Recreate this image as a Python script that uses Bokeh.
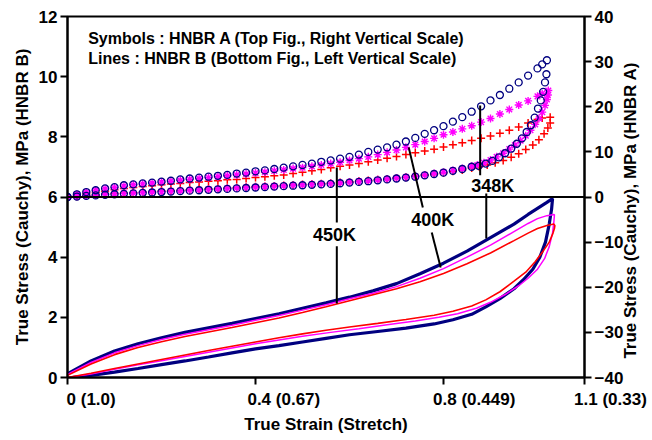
import math
from bokeh.plotting import figure
from bokeh.models import Range1d, LinearAxis, Span, Label, FixedTicker
from bokeh.embed import file_html
from bokeh.resources import INLINE

# ---------------- data ----------------
# shared strain grid for loading branches of HNBR A symbols
strain_up = [0.0, 0.02, 0.04, 0.06, 0.08, 0.1, 0.12, 0.14, 0.16, 0.18, 0.2, 0.22, 0.24, 0.26,
             0.28, 0.3, 0.32, 0.34, 0.36, 0.38, 0.4, 0.42, 0.44, 0.46, 0.48, 0.5, 0.52, 0.54,
             0.56, 0.58, 0.6, 0.62, 0.64, 0.66, 0.68, 0.7, 0.72, 0.74, 0.76, 0.78, 0.8, 0.82,
             0.84, 0.86, 0.88, 0.9, 0.92, 0.94, 0.96, 0.98, 1.0]
# shared strain grid for the low-strain part of unloading branches
strain_lo = [0.84, 0.82, 0.8, 0.78, 0.76, 0.74, 0.72, 0.7, 0.68, 0.66, 0.64, 0.62, 0.6, 0.58,
             0.56, 0.54, 0.52, 0.5, 0.48, 0.46, 0.44, 0.42, 0.4, 0.38, 0.36, 0.34, 0.32, 0.3,
             0.28, 0.26, 0.24, 0.22, 0.2, 0.18, 0.16, 0.14, 0.12, 0.1, 0.08, 0.06, 0.04, 0.02, 0.0]

# HNBR A, 348K (circles), right scale
a348_up = [0.0, 0.6, 1.1, 1.5, 1.9, 2.2, 2.6, 2.8, 3.0, 3.2, 3.4, 3.6, 3.9, 4.1, 4.3, 4.5, 4.7,
           4.9, 5.2, 5.4, 5.7, 5.9, 6.2, 6.5, 6.8, 7.1, 7.4, 7.8, 8.1, 8.5, 8.9, 9.4, 10.0, 10.5,
           11.0, 11.6, 12.3, 13.1, 14.0, 14.8, 15.7, 16.7, 17.7, 18.9, 20.1, 21.4, 22.6, 24.0,
           25.4, 26.9, 28.5]
a348_top_x = [1.01, 1.02, 1.019, 1.016, 1.012, 1.007, 1.001, 0.994, 0.986, 0.977, 0.967, 0.956,
              0.944, 0.931, 0.918, 0.904, 0.89, 0.875, 0.86]
a348_top_y = [29.4, 30.3, 27.2, 25.4, 23.3, 21.4, 19.6, 17.6, 15.9, 14.4, 13.0, 11.8, 10.7, 9.7,
              8.8, 8.0, 7.4, 6.9, 6.7]
a348_lo = [6.2, 5.8, 5.4, 5.1, 4.8, 4.5, 4.3, 4.1, 3.9, 3.7, 3.5, 3.35, 3.2, 3.05, 2.9, 2.8, 2.7,
           2.6, 2.5, 2.4, 2.3, 2.2, 2.1, 2.0, 1.9, 1.8, 1.7, 1.6, 1.5, 1.4, 1.3, 1.2, 1.1, 1.0,
           0.9, 0.8, 0.7, 0.6, 0.5, 0.35, 0.25, 0.1, 0.0]

# HNBR A, 400K (asterisks), right scale
a400_up = [0.0, 0.6, 1.1, 1.5, 1.8, 2.1, 2.4, 2.7, 2.9, 3.1, 3.3, 3.5, 3.7, 3.9, 4.1, 4.3, 4.5,
           4.7, 4.9, 5.1, 5.3, 5.5, 5.8, 6.0, 6.3, 6.5, 6.8, 7.1, 7.4, 7.7, 8.1, 8.5, 8.9, 9.4,
           9.9, 10.4, 11.0, 11.6, 12.3, 13.0, 13.8, 14.4, 15.1, 15.8, 16.6, 17.4, 18.4, 19.4,
           20.4, 21.3, 22.3]
a400_top_x = [1.01, 1.023, 1.022, 1.02, 1.016, 1.01, 1.003, 0.995, 0.985, 0.975, 0.964, 0.952,
              0.94, 0.927, 0.913, 0.9, 0.886, 0.872, 0.86]
a400_top_y = [22.9, 23.6, 22.6, 21.6, 20.3, 18.8, 17.4, 16.1, 14.8, 13.6, 12.5, 11.5, 10.6, 9.7,
              8.9, 8.2, 7.6, 7.1, 6.8]
a400_lo = [6.3, 5.9, 5.5, 5.2, 4.9, 4.6, 4.4, 4.2, 4.0, 3.8, 3.6, 3.45, 3.3, 3.15, 3.0, 2.9, 2.8,
           2.7, 2.6, 2.5, 2.4, 2.3, 2.2, 2.1, 2.0, 1.9, 1.8, 1.7, 1.6, 1.5, 1.4, 1.3, 1.2, 1.1,
           1.0, 0.9, 0.8, 0.7, 0.6, 0.45, 0.3, 0.15, 0.0]

# HNBR A, 450K (crosses), right scale
a450_up = [0.0, 0.3, 0.7, 1.0, 1.3, 1.6, 1.9, 2.1, 2.3, 2.5, 2.7, 2.9, 3.0, 3.2, 3.3, 3.5, 3.6,
           3.8, 3.9, 4.1, 4.3, 4.5, 4.7, 4.9, 5.2, 5.5, 5.8, 6.1, 6.5, 6.8, 7.1, 7.4, 7.8, 8.2,
           8.6, 9.0, 9.4, 9.8, 10.2, 10.6, 11.1, 11.6, 12.0, 12.5, 13.0, 13.5, 14.1, 14.8, 15.5,
           16.4, 17.2]
a450_top_x = [1.01, 1.027, 1.027, 1.022, 1.014, 1.003, 0.99, 0.975, 0.96, 0.944, 0.927, 0.91,
              0.893, 0.876, 0.86]
a450_top_y = [17.5, 17.7, 16.4, 15.3, 14.0, 12.7, 11.5, 10.5, 9.6, 8.8, 8.1, 7.6, 7.1, 6.7, 6.4]
a450_lo = [6.0, 5.7, 5.4, 5.1, 4.85, 4.6, 4.4, 4.2, 4.0, 3.8, 3.65, 3.5, 3.35, 3.2, 3.05, 2.95,
           2.85, 2.75, 2.65, 2.55, 2.45, 2.35, 2.25, 2.15, 2.05, 1.95, 1.85, 1.75, 1.65, 1.55,
           1.45, 1.35, 1.25, 1.15, 1.05, 0.95, 0.85, 0.75, 0.6, 0.45, 0.3, 0.15, 0.0]

# HNBR B lines, left scale (loading then unloading)
b_up_x = [0.0, 0.05, 0.1, 0.15, 0.2, 0.25, 0.3, 0.35, 0.4, 0.45, 0.5, 0.55, 0.6, 0.65, 0.7,
          0.75, 0.8, 0.85, 0.9, 0.95, 0.98, 1.0, 1.02]
b348_up_tip_x = 1.032
b348_up = [0.12, 0.55, 0.88, 1.12, 1.32, 1.5, 1.65, 1.8, 1.96, 2.12, 2.3, 2.48, 2.67, 2.88, 3.12,
           3.45, 3.8, 4.2, 4.65, 5.1, 5.42, 5.62, 5.82, 5.95]
b348_dn_x = [1.03, 1.025, 1.017, 1.005, 0.99, 0.97, 0.95, 0.92, 0.89, 0.86, 0.82, 0.78, 0.72,
             0.66, 0.6, 0.55, 0.5, 0.45, 0.4, 0.35, 0.3, 0.25, 0.2, 0.15, 0.1, 0.05, 0.01]
b348_dn = [5.6, 5.1, 4.5, 4.0, 3.6, 3.25, 2.95, 2.62, 2.35, 2.1, 1.92, 1.78, 1.64, 1.53, 1.42,
           1.3, 1.18, 1.06, 0.95, 0.82, 0.68, 0.55, 0.43, 0.3, 0.18, 0.07, 0.0]

b400_up_tip_x = 1.035
b400_up = [0.1, 0.5, 0.82, 1.06, 1.26, 1.44, 1.59, 1.74, 1.9, 2.06, 2.24, 2.42, 2.62, 2.8, 3.02,
           3.3, 3.62, 4.0, 4.4, 4.85, 5.12, 5.28, 5.38, 5.42]
b400_dn_x = [1.036, 1.035, 1.032, 1.025, 1.015, 1.0, 0.98, 0.96, 0.93, 0.9, 0.87, 0.83, 0.79,
             0.74, 0.68, 0.62, 0.56, 0.5, 0.45, 0.4, 0.35, 0.3, 0.25, 0.2, 0.15, 0.1, 0.05, 0.0]
b400_dn = [5.4, 5.2, 4.8, 4.35, 3.95, 3.6, 3.3, 3.05, 2.75, 2.5, 2.3, 2.12, 2.0, 1.88, 1.75,
           1.62, 1.5, 1.37, 1.25, 1.12, 0.98, 0.84, 0.7, 0.56, 0.42, 0.27, 0.12, 0.0]

b450_up_tip_x = 1.035
b450_up = [0.07, 0.45, 0.76, 1.0, 1.19, 1.36, 1.51, 1.66, 1.82, 1.98, 2.16, 2.35, 2.55, 2.75,
           2.95, 3.18, 3.46, 3.78, 4.14, 4.55, 4.8, 4.95, 5.05, 5.1]
b450_dn_x = [1.037, 1.036, 1.033, 1.025, 1.012, 0.995, 0.975, 0.95, 0.92, 0.89, 0.86, 0.82,
             0.78, 0.72, 0.66, 0.6, 0.55, 0.5, 0.45, 0.4, 0.35, 0.3, 0.25, 0.2, 0.15, 0.1, 0.05,
             0.0]
b450_dn = [5.05, 4.95, 4.8, 4.5, 4.2, 3.85, 3.5, 3.2, 2.85, 2.58, 2.38, 2.2, 2.07, 1.93, 1.8,
           1.68, 1.57, 1.45, 1.32, 1.18, 1.04, 0.9, 0.75, 0.6, 0.45, 0.3, 0.14, 0.0]

# axis ticks
x_ticks = [0, 0.4, 0.8, 1.1]
x_tick_labels = ["0 (1.0)", "0.4 (0.67)", "0.8 (0.449)", "1.1 (0.33)"]
x_label_pad = [10, 12, 13, 11]   # no-break spaces: puts the number on its tick
yl_ticks = [0, 2, 4, 6, 8, 10, 12]
yr_ticks = [-40, -30, -20, -10, 0, 10, 20, 30, 40]
right_title = "True Stress (Cauchy), MPa (HNBR A)"
right_title_pad = 4              # no-break spaces: lifts the title to the middle of the axis

# temperature labels and leader lines (data coords, left scale)
temp_names = ["450K", "400K", "348K"]
temp_x = [0.568, 0.777, 0.905]
temp_y = [4.75, 5.25, 6.35]
lead_x0 = [0.573, 0.573, 0.726, 0.775, 0.878, 0.891]
lead_y0 = [6.98, 4.36, 7.65, 4.82, 9.04, 6.12]
lead_x1 = [0.573, 0.573, 0.756, 0.794, 0.878, 0.891]
lead_y1 = [5.15, 2.46, 5.65, 3.66, 6.72, 4.62]

note_lines = ["Symbols : HNBR A (Top Fig., Right Vertical Scale)",
              "Lines : HNBR B (Bottom Fig., Left Vertical Scale)"]
note_x = 0.044
note_y = [11.27, 10.6]

NAVY = "#000080"
MAG = "#FF00FF"
RED = "#FF0000"
FONT = "Liberation Sans"

# ---------------- figure ----------------
p = figure(width=652, height=440, x_range=Range1d(0, 1.1), y_range=Range1d(0, 12),
           output_backend="svg", toolbar_location=None,
           min_border_left=67, min_border_right=64, min_border_top=16, min_border_bottom=63)
p.extra_y_ranges = {"A": Range1d(-40, 40)}
p.xgrid.visible = False
p.ygrid.visible = False
p.outline_line_color = "black"
p.outline_line_width = 2
p.background_fill_color = "white"
p.border_fill_color = "white"

p.xaxis.ticker = FixedTicker(ticks=x_ticks)
p.xaxis.major_label_overrides = {t: "\u00a0" * k + s
                                 for t, s, k in zip(x_ticks, x_tick_labels, x_label_pad)}
p.xaxis.axis_label = "True Strain (Stretch)"
p.yaxis.ticker = FixedTicker(ticks=yl_ticks)
p.yaxis.axis_label = "True Stress (Cauchy), MPa (HNBR B)"

ra = LinearAxis(y_range_name="A", ticker=FixedTicker(ticks=yr_ticks),
                axis_label="\u00a0" * right_title_pad + right_title)
p.add_layout(ra, "right")

for ax in [p.xaxis[0], p.yaxis[0], ra]:
    ax.axis_line_width = 2
    ax.axis_line_color = "black"
    ax.major_tick_line_width = 2
    ax.major_tick_line_color = "black"
    ax.major_tick_out = 7
    ax.major_tick_in = 0
    ax.minor_tick_line_color = None
    ax.major_label_text_font = FONT
    ax.major_label_text_font_style = "bold"
    ax.major_label_text_font_size = "17px"
    ax.major_label_text_color = "black"
    ax.axis_label_text_font = FONT
    ax.axis_label_text_font_style = "bold"
    ax.axis_label_text_font_size = "17px"
    ax.axis_label_text_color = "black"
    ax.major_label_standoff = 3
    ax.axis_label_standoff = 4

p.xaxis.major_label_standoff = 5
p.xaxis.axis_label_standoff = 3

# right-hand title reads upwards, like the left one
if "axis_label_align" in LinearAxis.properties():
    ra.axis_label_orientation = math.pi / 2
    ra.axis_label_align = "start"

# zero line of the right scale
p.add_layout(Span(location=6, dimension="width", line_color="black", line_width=2))

# HNBR B loops (left scale)
p.line(b_up_x + [b348_up_tip_x] + b348_dn_x, b348_up + b348_dn, line_color=NAVY, line_width=3.2)
p.line(b_up_x + [b400_up_tip_x] + b400_dn_x, b400_up + b400_dn, line_color=MAG, line_width=1.5)
p.line(b_up_x + [b450_up_tip_x] + b450_dn_x, b450_up + b450_dn, line_color=RED, line_width=1.6)

# HNBR A symbols (right scale)
p.scatter(strain_up + a450_top_x + strain_lo, a450_up + a450_top_y + a450_lo, y_range_name="A",
          marker="cross", size=8, line_color=RED, line_width=1.5)
p.scatter(strain_up + a400_top_x + strain_lo, a400_up + a400_top_y + a400_lo, y_range_name="A",
          marker="asterisk", size=8, line_color=MAG, line_width=1.4)
p.scatter(strain_up + a348_top_x + strain_lo, a348_up + a348_top_y + a348_lo, y_range_name="A",
          marker="circle", size=7, line_color=NAVY, fill_color=None, line_width=1.3)

# leader lines and labels
p.segment(lead_x0, lead_y0, lead_x1, lead_y1, line_color="black", line_width=2)
for name, tx, ty in zip(temp_names, temp_x, temp_y):
    p.add_layout(Label(x=tx, y=ty, text=name, text_align="center", text_baseline="middle",
                       text_font=FONT, text_font_style="bold", text_font_size="18px",
                       text_color="black"))
for line, ny in zip(note_lines, note_y):
    p.add_layout(Label(x=note_x, y=ny, text=line, text_align="left", text_baseline="middle",
                       text_font=FONT, text_font_style="bold", text_font_size="16px",
                       text_color="black"))

open("out.html", "w").write(file_html(p, INLINE))
